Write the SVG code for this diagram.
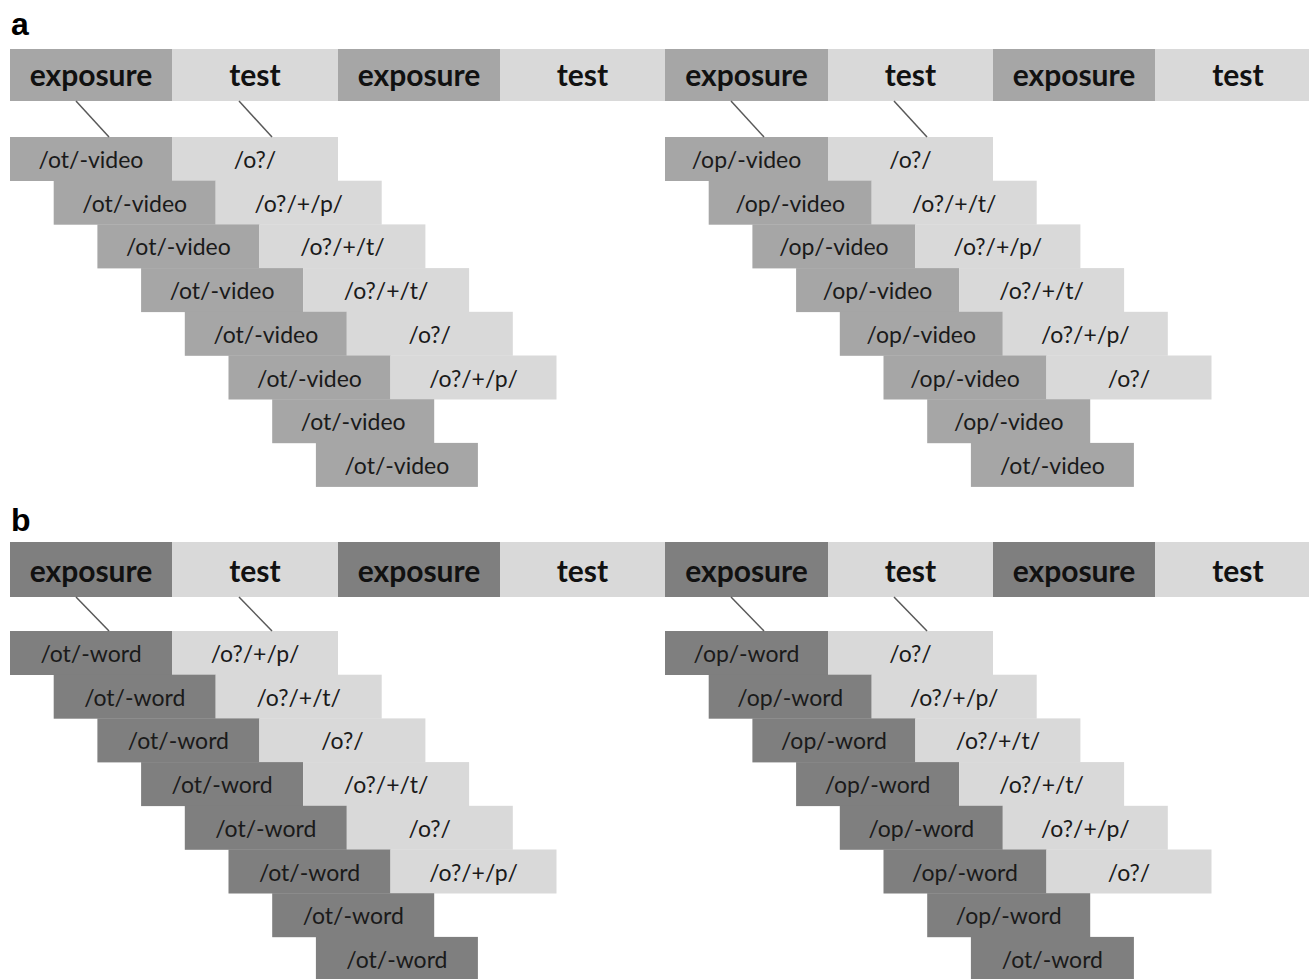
<svg xmlns="http://www.w3.org/2000/svg" width="1309" height="979" viewBox="0 0 1309 979">
<style>
.bg{fill:#ffffff}
.ea{fill:#a6a6a6}
.eb{fill:#7f7f7f}
.ts{fill:#d9d9d9}
.h{font-family:Lato,"Open Sans",sans-serif;font-weight:bold;font-size:30px;fill:#111111;text-anchor:middle}
.t{font-family:Lato,"Open Sans",sans-serif;font-size:23px;fill:#1a1a1a;text-anchor:middle}
.lbl{font-family:"Liberation Sans",Arial,sans-serif;font-weight:bold;font-size:32px;fill:#000000}
.ln{stroke:#595959;stroke-width:1.5;fill:none}
</style>
<rect class="bg" x="0" y="0" width="1309" height="979"/>
<text class="lbl" x="11" y="35">a</text>
<text class="lbl" x="11" y="531">b</text>

<!-- Panel a header bar -->
<g id="a-h1" transform="translate(10,49)"><rect class="ea" width="162" height="52"/><text class="h" x="81" y="37">exposure</text></g>
<g id="a-h2" transform="translate(172,49)"><rect class="ts" width="166" height="52"/><text class="h" x="83" y="37">test</text></g>
<g id="a-h3" transform="translate(338,49)"><rect class="ea" width="162" height="52"/><text class="h" x="81" y="37">exposure</text></g>
<g id="a-h4" transform="translate(500,49)"><rect class="ts" width="165" height="52"/><text class="h" x="82.5" y="37">test</text></g>
<g id="a-h5" transform="translate(665,49)"><rect class="ea" width="163" height="52"/><text class="h" x="81.5" y="37">exposure</text></g>
<g id="a-h6" transform="translate(828,49)"><rect class="ts" width="165" height="52"/><text class="h" x="82.5" y="37">test</text></g>
<g id="a-h7" transform="translate(993,49)"><rect class="ea" width="162" height="52"/><text class="h" x="81" y="37">exposure</text></g>
<g id="a-h8" transform="translate(1155,49)"><rect class="ts" width="154" height="52"/><text class="h" x="83" y="37">test</text></g>

<!-- Panel a left staircase -->
<g id="a-L-e0" transform="translate(10,137)"><rect class="ea" width="162" height="44"/><text class="t" x="81" y="31">/ot/-video</text></g>
<g id="a-L-t0" transform="translate(172,137)"><rect class="ts" width="166" height="44"/><text class="t" x="83" y="31">/o?/</text></g>
<g id="a-L-e1" transform="translate(53.7,180.7)"><rect class="ea" width="162" height="44"/><text class="t" x="81" y="31">/ot/-video</text></g>
<g id="a-L-t1" transform="translate(215.7,180.7)"><rect class="ts" width="166" height="44"/><text class="t" x="83" y="31">/o?/+/p/</text></g>
<g id="a-L-e2" transform="translate(97.4,224.4)"><rect class="ea" width="162" height="44"/><text class="t" x="81" y="31">/ot/-video</text></g>
<g id="a-L-t2" transform="translate(259.4,224.4)"><rect class="ts" width="166" height="44"/><text class="t" x="83" y="31">/o?/+/t/</text></g>
<g id="a-L-e3" transform="translate(141.1,268.1)"><rect class="ea" width="162" height="44"/><text class="t" x="81" y="31">/ot/-video</text></g>
<g id="a-L-t3" transform="translate(303.1,268.1)"><rect class="ts" width="166" height="44"/><text class="t" x="83" y="31">/o?/+/t/</text></g>
<g id="a-L-e4" transform="translate(184.8,311.8)"><rect class="ea" width="162" height="44"/><text class="t" x="81" y="31">/ot/-video</text></g>
<g id="a-L-t4" transform="translate(346.8,311.8)"><rect class="ts" width="166" height="44"/><text class="t" x="83" y="31">/o?/</text></g>
<g id="a-L-e5" transform="translate(228.5,355.5)"><rect class="ea" width="162" height="44"/><text class="t" x="81" y="31">/ot/-video</text></g>
<g id="a-L-t5" transform="translate(390.5,355.5)"><rect class="ts" width="166" height="44"/><text class="t" x="83" y="31">/o?/+/p/</text></g>
<g id="a-L-e6" transform="translate(272.2,399.2)"><rect class="ea" width="162" height="44"/><text class="t" x="81" y="31">/ot/-video</text></g>
<g id="a-L-e7" transform="translate(315.9,442.9)"><rect class="ea" width="162" height="44"/><text class="t" x="81" y="31">/ot/-video</text></g>

<!-- Panel a right staircase -->
<g id="a-R-e0" transform="translate(665,137)"><rect class="ea" width="163" height="44"/><text class="t" x="81.5" y="31">/op/-video</text></g>
<g id="a-R-t0" transform="translate(828,137)"><rect class="ts" width="165" height="44"/><text class="t" x="82.5" y="31">/o?/</text></g>
<g id="a-R-e1" transform="translate(708.7,180.7)"><rect class="ea" width="163" height="44"/><text class="t" x="81.5" y="31">/op/-video</text></g>
<g id="a-R-t1" transform="translate(871.7,180.7)"><rect class="ts" width="165" height="44"/><text class="t" x="82.5" y="31">/o?/+/t/</text></g>
<g id="a-R-e2" transform="translate(752.4,224.4)"><rect class="ea" width="163" height="44"/><text class="t" x="81.5" y="31">/op/-video</text></g>
<g id="a-R-t2" transform="translate(915.4,224.4)"><rect class="ts" width="165" height="44"/><text class="t" x="82.5" y="31">/o?/+/p/</text></g>
<g id="a-R-e3" transform="translate(796.1,268.1)"><rect class="ea" width="163" height="44"/><text class="t" x="81.5" y="31">/op/-video</text></g>
<g id="a-R-t3" transform="translate(959.1,268.1)"><rect class="ts" width="165" height="44"/><text class="t" x="82.5" y="31">/o?/+/t/</text></g>
<g id="a-R-e4" transform="translate(839.8,311.8)"><rect class="ea" width="163" height="44"/><text class="t" x="81.5" y="31">/op/-video</text></g>
<g id="a-R-t4" transform="translate(1002.8,311.8)"><rect class="ts" width="165" height="44"/><text class="t" x="82.5" y="31">/o?/+/p/</text></g>
<g id="a-R-e5" transform="translate(883.5,355.5)"><rect class="ea" width="163" height="44"/><text class="t" x="81.5" y="31">/op/-video</text></g>
<g id="a-R-t5" transform="translate(1046.5,355.5)"><rect class="ts" width="165" height="44"/><text class="t" x="82.5" y="31">/o?/</text></g>
<g id="a-R-e6" transform="translate(927.2,399.2)"><rect class="ea" width="163" height="44"/><text class="t" x="81.5" y="31">/op/-video</text></g>
<g id="a-R-e7" transform="translate(970.9,442.9)"><rect class="ea" width="163" height="44"/><text class="t" x="81.5" y="31">/ot/-video</text></g>

<!-- Panel b header bar -->
<g id="b-h1" transform="translate(10,542)"><rect class="eb" width="162" height="55"/><text class="h" x="81" y="40">exposure</text></g>
<g id="b-h2" transform="translate(172,542)"><rect class="ts" width="166" height="55"/><text class="h" x="83" y="40">test</text></g>
<g id="b-h3" transform="translate(338,542)"><rect class="eb" width="162" height="55"/><text class="h" x="81" y="40">exposure</text></g>
<g id="b-h4" transform="translate(500,542)"><rect class="ts" width="165" height="55"/><text class="h" x="82.5" y="40">test</text></g>
<g id="b-h5" transform="translate(665,542)"><rect class="eb" width="163" height="55"/><text class="h" x="81.5" y="40">exposure</text></g>
<g id="b-h6" transform="translate(828,542)"><rect class="ts" width="165" height="55"/><text class="h" x="82.5" y="40">test</text></g>
<g id="b-h7" transform="translate(993,542)"><rect class="eb" width="162" height="55"/><text class="h" x="81" y="40">exposure</text></g>
<g id="b-h8" transform="translate(1155,542)"><rect class="ts" width="154" height="55"/><text class="h" x="83" y="40">test</text></g>

<!-- Panel b left staircase -->
<g id="b-L-e0" transform="translate(10,631)"><rect class="eb" width="162" height="44"/><text class="t" x="81" y="31">/ot/-word</text></g>
<g id="b-L-t0" transform="translate(172,631)"><rect class="ts" width="166" height="44"/><text class="t" x="83" y="31">/o?/+/p/</text></g>
<g id="b-L-e1" transform="translate(53.7,674.7)"><rect class="eb" width="162" height="44"/><text class="t" x="81" y="31">/ot/-word</text></g>
<g id="b-L-t1" transform="translate(215.7,674.7)"><rect class="ts" width="166" height="44"/><text class="t" x="83" y="31">/o?/+/t/</text></g>
<g id="b-L-e2" transform="translate(97.4,718.4)"><rect class="eb" width="162" height="44"/><text class="t" x="81" y="31">/ot/-word</text></g>
<g id="b-L-t2" transform="translate(259.4,718.4)"><rect class="ts" width="166" height="44"/><text class="t" x="83" y="31">/o?/</text></g>
<g id="b-L-e3" transform="translate(141.1,762.1)"><rect class="eb" width="162" height="44"/><text class="t" x="81" y="31">/ot/-word</text></g>
<g id="b-L-t3" transform="translate(303.1,762.1)"><rect class="ts" width="166" height="44"/><text class="t" x="83" y="31">/o?/+/t/</text></g>
<g id="b-L-e4" transform="translate(184.8,805.8)"><rect class="eb" width="162" height="44"/><text class="t" x="81" y="31">/ot/-word</text></g>
<g id="b-L-t4" transform="translate(346.8,805.8)"><rect class="ts" width="166" height="44"/><text class="t" x="83" y="31">/o?/</text></g>
<g id="b-L-e5" transform="translate(228.5,849.5)"><rect class="eb" width="162" height="44"/><text class="t" x="81" y="31">/ot/-word</text></g>
<g id="b-L-t5" transform="translate(390.5,849.5)"><rect class="ts" width="166" height="44"/><text class="t" x="83" y="31">/o?/+/p/</text></g>
<g id="b-L-e6" transform="translate(272.2,893.2)"><rect class="eb" width="162" height="44"/><text class="t" x="81" y="31">/ot/-word</text></g>
<g id="b-L-e7" transform="translate(315.9,936.9)"><rect class="eb" width="162" height="44"/><text class="t" x="81" y="31">/ot/-word</text></g>

<!-- Panel b right staircase -->
<g id="b-R-e0" transform="translate(665,631)"><rect class="eb" width="163" height="44"/><text class="t" x="81.5" y="31">/op/-word</text></g>
<g id="b-R-t0" transform="translate(828,631)"><rect class="ts" width="165" height="44"/><text class="t" x="82.5" y="31">/o?/</text></g>
<g id="b-R-e1" transform="translate(708.7,674.7)"><rect class="eb" width="163" height="44"/><text class="t" x="81.5" y="31">/op/-word</text></g>
<g id="b-R-t1" transform="translate(871.7,674.7)"><rect class="ts" width="165" height="44"/><text class="t" x="82.5" y="31">/o?/+/p/</text></g>
<g id="b-R-e2" transform="translate(752.4,718.4)"><rect class="eb" width="163" height="44"/><text class="t" x="81.5" y="31">/op/-word</text></g>
<g id="b-R-t2" transform="translate(915.4,718.4)"><rect class="ts" width="165" height="44"/><text class="t" x="82.5" y="31">/o?/+/t/</text></g>
<g id="b-R-e3" transform="translate(796.1,762.1)"><rect class="eb" width="163" height="44"/><text class="t" x="81.5" y="31">/op/-word</text></g>
<g id="b-R-t3" transform="translate(959.1,762.1)"><rect class="ts" width="165" height="44"/><text class="t" x="82.5" y="31">/o?/+/t/</text></g>
<g id="b-R-e4" transform="translate(839.8,805.8)"><rect class="eb" width="163" height="44"/><text class="t" x="81.5" y="31">/op/-word</text></g>
<g id="b-R-t4" transform="translate(1002.8,805.8)"><rect class="ts" width="165" height="44"/><text class="t" x="82.5" y="31">/o?/+/p/</text></g>
<g id="b-R-e5" transform="translate(883.5,849.5)"><rect class="eb" width="163" height="44"/><text class="t" x="81.5" y="31">/op/-word</text></g>
<g id="b-R-t5" transform="translate(1046.5,849.5)"><rect class="ts" width="165" height="44"/><text class="t" x="82.5" y="31">/o?/</text></g>
<g id="b-R-e6" transform="translate(927.2,893.2)"><rect class="eb" width="163" height="44"/><text class="t" x="81.5" y="31">/op/-word</text></g>
<g id="b-R-e7" transform="translate(970.9,936.9)"><rect class="eb" width="163" height="44"/><text class="t" x="81.5" y="31">/ot/-word</text></g>

<!-- Connectors -->
<g id="connectors">
<line class="ln" x1="76" y1="101" x2="109" y2="137"/>
<line class="ln" x1="239" y1="101" x2="272" y2="137"/>
<line class="ln" x1="731" y1="101" x2="764" y2="137"/>
<line class="ln" x1="894" y1="101" x2="927" y2="137"/>
<line class="ln" x1="76" y1="597" x2="109" y2="631"/>
<line class="ln" x1="239" y1="597" x2="272" y2="631"/>
<line class="ln" x1="731" y1="597" x2="764" y2="631"/>
<line class="ln" x1="894" y1="597" x2="927" y2="631"/>
</g>
</svg>
